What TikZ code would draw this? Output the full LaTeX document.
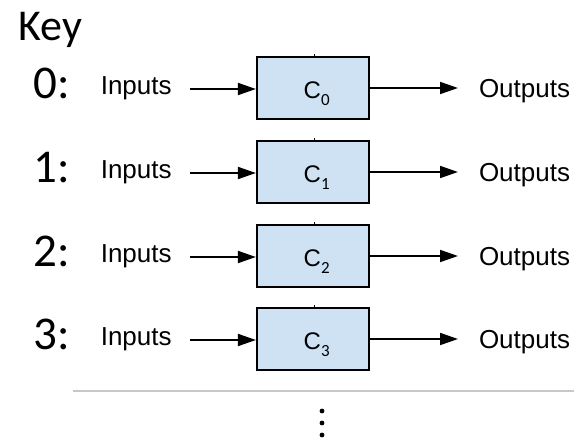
\documentclass[tikz,border=0pt]{standalone}
\usepackage{fontspec}
\setmainfont{Liberation Sans}
\newfontfamily\calibrifont{Carlito}
\usetikzlibrary{arrows.meta}
\definecolor{boxfill}{HTML}{CFE2F3}
\definecolor{rulegray}{HTML}{C8C8C8}
\tikzset{
  stagebox/.style={draw=black, fill=boxfill, line width=2.2pt, minimum width=112pt, minimum height=62pt, inner sep=0pt},
  flow/.style={line width=1.8pt, -{Triangle[length=18pt, width=12pt]}},
  iolabel/.style={anchor=base west, inner sep=0pt, font=\fontsize{26}{26}\selectfont},
  idxlabel/.style={anchor=base east, inner sep=0pt, font=\calibrifont\fontsize{47}{47}\selectfont},
  stagelabel/.style={anchor=base west, inner sep=0pt, font=\fontsize{24}{24}\selectfont},
}
\newcommand{\stagename}[1]{C\raisebox{-7pt}{\calibrifont\fontsize{17}{17}\selectfont #1}}
\begin{document}
\begin{tikzpicture}[x=1pt, y=-1pt]
  \useasboundingbox (0,0) rectangle (574,439);

  % heading
  \node[anchor=base west, inner sep=0pt, font=\calibrifont\fontsize{44}{44}\selectfont] (key) at (18.5,40) {Key};

  % one row per stage
  \foreach \i/\cy in {0/88, 1/172, 2/256, 3/339} {
    \node[idxlabel] (idx\i) at (70,\cy+10) {\i:};
    \node[iolabel] (in\i) at (100.6,\cy+6) {Inputs};
    \coordinate (src\i) at (190,\cy+1);
    \node[stagebox] (c\i) at (313,\cy) {};
    \draw[line width=1pt] (c\i.north) ++(1,0) -- ++(0,-2);
    \node[stagelabel] (lab\i) at (303.5,\cy+10) {\stagename{\i}};
    \coordinate (dst\i) at (458,\cy);
    \node[iolabel] (out\i) at (478.8,\cy+9) {Outputs};
    \draw[flow] (src\i) -- (src\i -| c\i.west);
    \draw[flow] (c\i.east |- dst\i) -- (dst\i);
  }

  % separator and continuation dots
  \coordinate (ruleL) at (73,391);
  \coordinate (ruleR) at (574,391);
  \draw[rulegray, line width=1.4pt] (ruleL) -- (ruleR);
  \foreach \dy in {411, 423, 435} {
    \fill (322,\dy) circle (2.4pt);
  }
\end{tikzpicture}
\end{document}
